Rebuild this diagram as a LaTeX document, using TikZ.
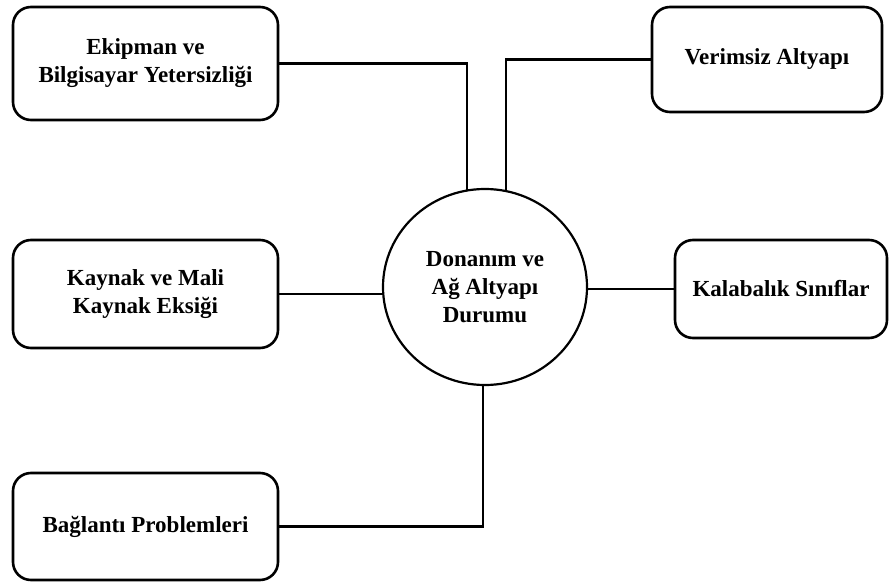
\documentclass[tikz,border=0pt]{standalone}
\usepackage{fontspec}
\setmainfont{Liberation Serif}[BoldFont={Liberation Serif Bold}]
\usetikzlibrary{shapes.geometric,backgrounds}
\begin{document}
\begin{tikzpicture}[x=1pt,y=-1pt,
  box/.style={draw, line width=2.6pt, rounded corners=18pt, fill=white,
    align=center, font=\fontsize{23}{28}\selectfont\bfseries, inner sep=0pt},
  hub/.style={draw, ellipse, line width=2.2pt, fill=white, inner sep=0pt,
    minimum width=204pt, minimum height=196pt,
    align=center, font=\fontsize{23}{28}\selectfont\bfseries},
  link/.style={line width=2.6pt}]
\useasboundingbox (0,0) rectangle (891,583);
\node[box, minimum width=265pt, minimum height=113pt] (b1) at (145.5,63.5) {Ekipman ve\\Bilgisayar Yetersizliği};
\node[box, minimum width=230pt, minimum height=105pt] (b2) at (767,59.5) {Verimsiz Altyapı};
\node[box, minimum width=265pt, minimum height=108pt] (b3) at (145.5,294) {Kaynak ve Mali\\Kaynak Eksiği};
\node[box, minimum width=212pt, minimum height=98pt] (b4) at (781,289) {Kalabalık Sınıflar};
\node[box, minimum width=265pt, minimum height=107pt] (b5) at (145.5,526.5) {Bağlantı Problemleri};
\node[hub] (c) at (485,287) {Donanım ve\\Ağ Altyapı\\Durumu};
\begin{scope}[on background layer]
\draw[link] (b1.east) -| ([xshift=-18pt]c.center);
\draw[link] (b2.west) -| ([xshift=21pt]c.center);
\draw[link] (b3.east) -- (b3.east -| c.center);
\draw[link] (b4.west) -- (b4.west -| c.center);
\draw[link] (b5.east) -| ([xshift=-2pt]c.center);
\end{scope}
\end{tikzpicture}
\end{document}
